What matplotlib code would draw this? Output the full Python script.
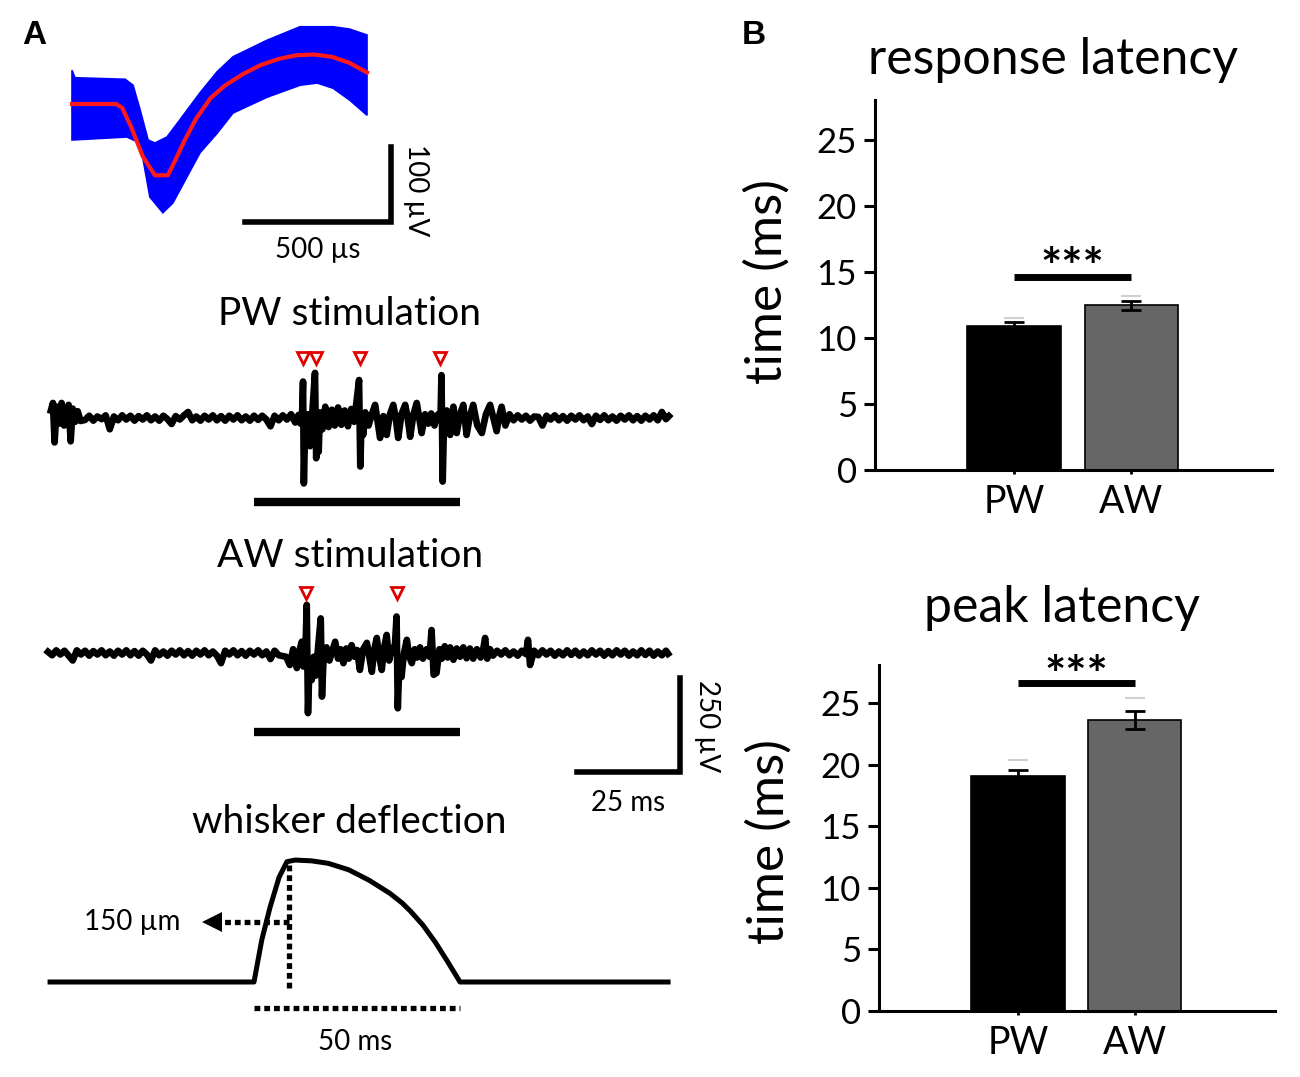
import numpy as np
import matplotlib
matplotlib.use('Agg')
import matplotlib.pyplot as plt

plt.rcParams['font.family'] = ['Lato', 'DejaVu Sans']

# ---- panel A: spike waveform (time in us, voltage in uV) ----
wave_t = [0, 150, 170, 200, 240, 281, 325, 350, 380, 420, 470, 520, 580, 640, 700, 760, 820, 880, 940, 1000]
wave_mean = [0, 0, -5, -30, -70, -95, -95, -75, -50, -20, 8, 25, 40, 52, 60, 65, 66, 63, 55, 42]
wave_up_t = [0, 10, 180, 207, 231, 258, 281, 322, 366, 434, 492, 546, 661, 773, 885, 940, 1000]
wave_up_v = [45, 35, 33, 25, -8, -48, -52, -44, -21, 15, 43, 63, 85, 103, 103, 100, 92]
wave_lo_t = [0, 186, 231, 264, 308, 342, 390, 434, 492, 546, 661, 773, 831, 885, 942, 1000]
wave_lo_v = [-48, -44, -52, -124, -145, -132, -97, -65, -39, -12, 9, 25, 28, 21, 5, -15]

# ---- PW trace (ms, uV) ----
pw_t = ([0.7, 1.2, 1.6, 2.1, 2.7, 3.3, 3.9, 4.5, 5.0, 5.5, 6.0, 6.6, 7.2, 7.9]
        + list(range(9, 59))
        + [59, 60, 60.8, 61.3, 61.7, 61.9, 62.1, 62.4, 62.8, 63.2, 63.6, 64.1, 64.8, 65.1, 65.4, 65.7,
           66.0, 66.6, 67.3, 68.1, 68.9, 69.6, 70.4, 71.2, 72.0, 72.8, 73.6, 74.3, 75.5, 75.8, 76.1,
           76.5, 77.0, 77.8, 78.6, 79.4, 80.6, 81.4, 82.2, 83.0, 83.8, 84.4, 85.0, 85.8, 86.7, 87.3,
           87.9, 88.7, 89.5, 90.1, 90.7, 91.5, 92.3, 93.0, 93.8, 94.5, 95.3, 95.5, 95.8, 96.1, 96.8,
           97.6, 98.4, 99.2, 100.0, 100.8, 101.6, 102.4, 103.2, 104.2, 105.3, 106.3, 107.3, 108.1,
           108.9, 109.5, 110.1, 111.0, 112.0]
        + list(range(113, 151)) + [150.7])
pw_v = ([20, 40, -65, 30, -15, 40, -20, 10, 35, -62, 25, -10, 18, -8]
        + [-5, 6, -7, 4, -3, 7, -30, 4, -6, 7,
           -4, 6, -7, 5, -4, 7, -6, 4, -7, 6,
           -3, -16, 5, -4, 7, 16, -6, 4, -7, 6,
           -4, 7, -6, 5, -7, 6, -4, 7, -6, 4,
           -7, 6, -5, 6, -4, -22, 6, -6, 7, -4]
        + [10, -12, 8, -15, 20, 97, -174, -30, -60, 10, -75, 5, 120, -107, -20, -90, 15, -30, 30, -24,
           22, -20, 28, -18, 20, -22, 24, -10, 101, -129, -10, -45, 15, -20, 10, 35, -53, 5, -45, 10,
           35, 0, -53, 10, 35, 0, -50, 10, 40, 0, -40, 10, -15, 12, -20, 8, 15, 114, -169, -20,
           20, -45, 30, -40, 10, 35, -45, 5, 35, -20, -40, 10, 35, 0, -35, 5, 30, -20, 10]
        + [-6, 7, -4, 6, -7, 4, 3, -20, 6, -4,
           7, -6, 5, -7, 6, -4, 7, -6, 4, -16,
           6, -5, 7, -6, 4, -7, 6, -4, 7, -6,
           5, -7, 6, -4, 7, -6, 16, -3] + [5])
pw_marks = [61.9, 65.0, 75.7, 95.1]

# ---- AW trace (ms, uV) ----
aw_t = (list(range(0, 57))
        + [57.8, 58.7, 59.5, 60.4, 61.0, 61.6, 62.0, 62.5, 62.8, 63.1, 63.5, 64.0, 64.5, 65.0, 65.6,
           66.2, 66.5, 66.9, 67.6, 68.3, 69.0, 69.7, 70.4, 71.0, 71.7, 72.4, 73.0, 73.7, 74.4, 75.0,
           75.7, 76.5, 77.4, 78.0, 78.6, 79.2, 79.8, 80.4, 81.0, 81.6, 82.2, 82.8, 83.4, 84.2, 84.6,
           84.9, 85.3, 85.8, 86.4, 87.1, 87.7, 88.3, 89.0, 89.6, 90.3, 91.0, 91.9, 92.6, 93.1, 93.6,
           94.3, 95.0, 95.6, 96.3, 97.0, 97.6, 98.4, 99.2, 100.0, 100.8, 101.6, 102.4, 103.2, 104.1,
           105.0, 105.6, 106.1, 106.6, 107.3]
        + list(range(108, 117)) + [116.5] + list(range(117, 151)) + [150.5])
aw_t = sorted(aw_t)
aw_v = ([3, -6, 7, -4, 6, -7, -20, 7, -4, 6,
         -7, 5, -4, 7, -6, 4, -7, 6, -4, 7,
         -6, 5, -7, 6, -4, -20, 7, -6, 4, -7,
         6, -4, 7, -6, 5, -7, 6, -4, 7, -6,
         4, -7, -27, 6, -4, 7, -6, 5, -7, 6,
         -4, 7, -6, 4, -16, 6, -6]
        + [-10, -32, 10, -40, 5, 30, -36, 10, 128, -160, -20, -72, -10, -60, 20, 92, -116, -10, 15, -20,
           5, 30, -15, 10, -27, 12, -15, 21, -10, 8, -45, 10, 27, -10, -50, 10, 40, -10, -45, 15,
           48, -20, 10, 20, 97, -147, -20, -64, 0, 35, -10, -27, 10, -12, 15, -15, 10, -10, 61, -58,
           -53, 10, -15, 18, -12, 15, -18, 12, -10, 15, -14, 12, -15, 10, -12, 8, 40, -15, 10]
        + [-7, 6, -4, 7, -6, 4, -7, 6, -3, 35, -32, 6, -6, 7, -4, 6, -7, 4, -6, 7,
           -5, 6, -7, 4, -6, 7, -4, 6, -7, 5, -6, 7, -4, 6, -7, 4, -6, 7, -5, 6,
           -7, 4, -6, 6, -2])
aw_marks = [62.5, 84.7]

# ---- whisker deflection (ms, um) ----
defl_t = [0.5, 50, 51.9, 53.9, 56.1, 58, 60, 64, 68, 73, 78, 83, 86, 88, 91, 94, 97, 100, 150.5]
defl_um = [0, 0, 52, 92, 129, 148, 150, 149, 146, 138, 125, 109, 97, 87, 70, 49, 25, 0, 0]
stim_on, stim_off = 50, 100

# ---- panel B ----
cats = ['PW', 'AW']
resp_mean = [10.9, 12.45]
resp_err = [0.3, 0.35]
resp_gray = [11.5, 13.15]
peak_mean = [19.1, 23.65]
peak_err = [0.5, 0.75]
peak_gray = [20.4, 25.4]
bar_colors = ['black', '#666666']

W, H = 1300, 1077
fig = plt.figure(figsize=(13, 10.77), dpi=100)


def px_axes(x0, y0, x1, y1):
    return fig.add_axes([x0 / W, 1 - y1 / H, (x1 - x0) / W, (y1 - y0) / H])


def ftext(x, y, s, **kw):
    fig.text(x / W, 1 - y / H, s, **kw)


def trace_axes(y0, y1, base_px, px_per_unit):
    ax = px_axes(40, y0, 700, y1)
    ax.set_xlim((40 - 48) / 4.12, (700 - 48) / 4.12)
    ax.set_ylim((base_px - y1) / px_per_unit, (base_px - y0) / px_per_unit)
    ax.axis('off')
    return ax


dots = (0, (1.1, 0.75))

# waveform
axw = px_axes(40, 20, 440, 280)
axw.set_xlim((40 - 72) / 0.295, (440 - 72) / 0.295)
axw.set_ylim((104 - 280) / 0.75, (104 - 20) / 0.75)
axw.axis('off')
poly_t = wave_up_t + wave_lo_t[::-1]
poly_v = wave_up_v + wave_lo_v[::-1]
axw.fill(poly_t, poly_v, color='#0000ff', lw=1.2, ec='#0000ff')
axw.plot(wave_t, wave_mean, color='#ff1a1a', lw=3)
axw.plot([586, 1080, 1080], [-157, -157, -57], color='black', lw=4, solid_joinstyle='miter')
ftext(318, 250, '500 µs', fontsize=20, ha='center', va='center')
ftext(416, 190, '100 µV', fontsize=20, ha='center', va='center', rotation=-90)

# PW stimulation
axp = trace_axes(335, 515, 418, 0.376)
axp.plot(pw_t, pw_v, color='black', lw=4.8, solid_joinstyle='round')
axp.plot(pw_marks, [160] * len(pw_marks), ls='none', marker='v', ms=9, mfc='white', mec='#e00000', mew=2)
axp.plot([stim_on, stim_off], [-223, -223], color='black', lw=6, solid_capstyle='butt')
ftext(350, 314, 'PW stimulation', fontsize=28, ha='center', va='center')

# AW stimulation
axa = trace_axes(570, 790, 653, 0.376)
axa.plot(aw_t, aw_v, color='black', lw=4.8, solid_joinstyle='round')
axa.plot(aw_marks, [160] * len(aw_marks), ls='none', marker='v', ms=9, mfc='white', mec='#e00000', mew=2)
axa.plot([stim_on, stim_off], [-210, -210], color='black', lw=6, solid_capstyle='butt')
axa.plot([128.4, 153.4, 153.4], [-316.5, -316.5, -66.5], color='black', lw=4, solid_joinstyle='miter')
ftext(350, 556, 'AW stimulation', fontsize=28, ha='center', va='center')
ftext(628, 803, '25 ms', fontsize=20, ha='center', va='center')
ftext(707, 726, '250 µV', fontsize=20, ha='center', va='center', rotation=-90)

# whisker deflection
axd = trace_axes(840, 1020, 982, 0.813)
axd.plot(defl_t, defl_um, color='black', lw=3.6, solid_joinstyle='round')
axd.plot([58.5, 58.5], [144, -7], color='black', lw=3.8, ls=dots)
axd.plot([58.5, 42.5], [74, 74], color='black', lw=3.8, ls=dots)
axd.plot([39.8], [74], marker='<', ms=14, color='black', mew=0)
axd.plot([stim_on, stim_off], [-32, -32], color='black', lw=3.8, ls=dots)
ftext(349, 822, 'whisker deflection', fontsize=28, ha='center', va='center')
ftext(132, 922, '150 µm', fontsize=20, ha='center', va='center')
ftext(355, 1042, '50 ms', fontsize=20, ha='center', va='center')


def bar_panel(box, ymax, means, errs, grays, sig_y, star_y):
    ax = px_axes(*box)
    x = [1, 2]
    ax.bar(x, means, width=0.8, color=bar_colors, edgecolor='black', linewidth=1.2, zorder=2)
    ax.errorbar(x, means, yerr=errs, fmt='none', ecolor='black', elinewidth=2,
                capsize=7, capthick=2, zorder=3)
    ax.plot(x, grays, ls='none', marker='_', ms=15, mew=1.5, color='#d0d0d0', zorder=3)
    ax.plot(x, [sig_y, sig_y], color='black', lw=5, solid_capstyle='butt', clip_on=False)
    ax.text(1.5, star_y, '***', ha='center', va='baseline', fontsize=36, fontweight='bold',
            clip_on=False)
    ax.set_xlim(-0.188, 3.2)
    ax.set_ylim(0, ymax)
    ax.set_yticks([0, 5, 10, 15, 20, 25])
    ax.set_xticks(x)
    ax.set_xticklabels(cats)
    for s in ['top', 'right']:
        ax.spines[s].set_visible(False)
    for s in ['left', 'bottom']:
        ax.spines[s].set_linewidth(2.2)
    ax.tick_params(axis='y', length=8, width=2.2, labelsize=25, pad=5)
    ax.tick_params(axis='x', length=3, width=2, labelsize=27, pad=7)
    return ax


bar_panel((875, 100, 1272, 470), 28.0, resp_mean, resp_err, resp_gray, 14.6, 14.1)
bar_panel((879, 665, 1275, 1011), 28.1, peak_mean, peak_err, peak_gray, 26.6, 25.9)

ftext(1053, 60, 'response latency', fontsize=36, ha='center', va='center')
ftext(1062, 608, 'peak latency', fontsize=36, ha='center', va='center')
ftext(767, 282, 'time (ms)', fontsize=37, ha='center', va='center', rotation=90)
ftext(769, 842, 'time (ms)', fontsize=37, ha='center', va='center', rotation=90)

ftext(34, 36, 'A', fontsize=24, fontweight='bold', ha='center', va='center', family='Liberation Sans')
ftext(754, 36, 'B', fontsize=24, fontweight='bold', ha='center', va='center', family='Liberation Sans')

fig.savefig('out.png', dpi=100)
